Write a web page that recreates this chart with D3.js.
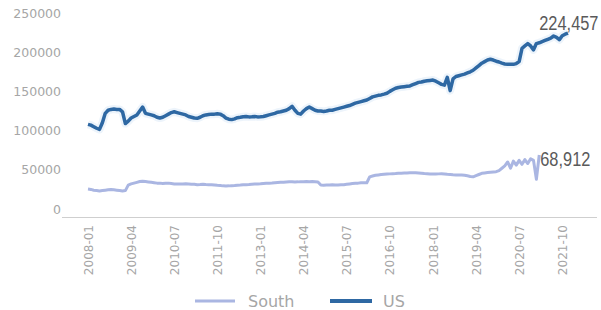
<!DOCTYPE html>
<html>
<head>
<meta charset="utf-8">
<script src="https://cdn.jsdelivr.net/npm/d3@7"></script>
<style>
  html, body { margin: 0; padding: 0; background: #fff; }
  svg { display: block; }
</style>
</head>
<body>
<div id="chart_container"></div>
<script>
// chart dimensions
const WIDTH = 601;
const HEIGHT = 310;
const PLOT = Object.freeze({ left: 88, right: 568, top: 13, bottom: 209 });
const AXIS_Y = 217;

// data
const START_MONTH = "2008-01";
const TICK_LABELS = ["2008-01", "2009-04", "2010-07", "2011-10", "2013-01", "2014-04",
  "2015-07", "2016-10", "2018-01", "2019-04", "2020-07", "2021-10"];
const Y_TICKS = [0, 50000, 100000, 150000, 200000, 250000];
const SERIES_NAMES = ["South", "US"];

// monthly values, 2008-01 .. 2021-12
const US_VALUES = [
  108000, 107000, 105000, 103000, 101500, 110000, 122000, 126000, 127000, 127500,
  127000, 127000, 124000, 109000, 112000, 116000, 118000, 120000, 125000, 130000,
  122000, 121000, 120000, 119000, 117000, 116000, 117000, 119000, 121000, 123000,
  124000, 123000, 122000, 121000, 120000, 118000, 117000, 116000, 115700, 117000,
  119000, 120000, 120500, 121000, 121000, 121500, 121000, 119000, 116000, 114500,
  114000, 115000, 116500, 117000, 117700, 118000, 117500, 117700, 118000, 117500,
  117700, 118000, 119000, 120000, 121000, 122000, 123500, 124000, 125000, 126000,
  128000, 131000, 126000, 122000, 121000, 125000, 128000, 130000, 128000, 126000,
  125000, 125000, 124500, 125000, 126000, 126000, 127000, 128000, 129000, 130000,
  131000, 132000, 133500, 135000, 136000, 137000, 138000, 139000, 141000, 143000,
  144000, 145000, 145500, 146500, 147600, 150000, 152000, 154000, 155000, 155500,
  156000, 156500, 157000, 158500, 160000, 161500, 162000, 163000, 163500, 164000,
  164500, 163000, 161000, 159000, 158000, 168000, 151000, 166000, 169000, 170000,
  171000, 172000, 173500, 175000, 177000, 180000, 183000, 186000, 188000, 190000,
  191000, 190000, 188500, 187500, 186000, 185000, 184500, 184500, 184500, 185500,
  188000, 205000, 208000, 211000, 208000, 203000, 211000, 212000, 213500, 215000,
  216500, 218000, 220700, 219000, 216000, 221000, 223000, 224457
];

// monthly values, 2008-01 .. 2021-02
const SOUTH_VALUES = [
  25500, 25000, 24000, 23500, 23000, 23500, 24000, 24500, 25000, 24500,
  24000, 23500, 23000, 23500, 30500, 32000, 33000, 34000, 35000, 35500,
  35000, 34500, 34000, 33500, 33000, 33000, 32500, 32800, 33000, 32500,
  32000, 32000, 31800, 32000, 32300, 32000, 31500, 31500, 31000, 31200,
  31500, 31200, 31000, 30800, 30500, 30200, 30000, 29500, 29300, 29500,
  29800, 30000, 30300, 30500, 30800, 31000, 31200, 31500, 31800, 32000,
  32200, 32500, 32800, 33000, 33200, 33500, 33800, 34000, 34200, 34500,
  34800, 34800, 34500, 34600, 34800, 34900, 35000, 34800, 35000, 34800,
  34500, 30600, 30400, 30500, 30600, 30800, 30600, 30500, 30800, 31000,
  31500, 32000, 32500, 32800, 33000, 33500, 33500, 33500, 41000, 42000,
  43000, 43500, 44000, 44300, 44600, 44800, 45000, 45200, 45500, 45700,
  45900, 46000, 46200, 46300, 46300, 46000, 45700, 45300, 45000, 44600,
  44500, 44600, 44800, 45000, 44700, 44300, 44000, 43700, 43500, 43400,
  43400, 43000, 42300, 41500, 41000, 42500, 44000, 45500, 46000, 46500,
  47000, 47300, 47600, 49000, 52000, 55000, 60000, 52000, 61000, 56000,
  62000, 57000, 63000, 58000, 64000, 62000, 38000, 68912
];

const COLORS = Object.freeze({ South: "#aab6e2", US: "#2e68a3" });

// month categories
const parseMonth = d3.timeParse("%Y-%m");
const fmtMonth = d3.timeFormat("%Y-%m");
const start = parseMonth(START_MONTH);
const months = d3.timeMonth
  .range(start, d3.timeMonth.offset(start, US_VALUES.length))
  .map(fmtMonth);

const seriesData = {
  South: SOUTH_VALUES.map((v, i) => ({ month: months[i], value: v })),
  US: US_VALUES.map((v, i) => ({ month: months[i], value: v })),
};

// create and append svg into DOM
const svg = d3
  .select("#chart_container")
  .append("svg")
  .attr("width", WIDTH)
  .attr("height", HEIGHT)
  .style("background", "#fff");

// scales
const x = d3.scalePoint().domain(months).range([PLOT.left, PLOT.right]);
const y = d3.scaleLinear().domain([0, 250000]).range([PLOT.bottom, PLOT.top]);

// y axis labels
const yAxis = svg
  .append("g")
  .attr("transform", "translate(61,0)")
  .call(d3.axisLeft(y).tickValues(Y_TICKS).tickSize(0).tickPadding(0).tickFormat(d3.format("d")));
yAxis.select(".domain").remove();
yAxis
  .selectAll("text")
  .attr("fill", "#a6a6a6")
  .style("font-family", "DejaVu Sans, sans-serif")
  .style("font-size", "12.5px");

// x axis base line
svg
  .append("line")
  .attr("x1", 62)
  .attr("x2", 597)
  .attr("y1", AXIS_Y + 0.5)
  .attr("y2", AXIS_Y + 0.5)
  .attr("stroke", "#cfcfcf")
  .attr("stroke-width", 1);

// x axis labels
const xAxis = svg
  .append("g")
  .attr("transform", `translate(0,${AXIS_Y})`)
  .call(d3.axisBottom(x).tickValues(TICK_LABELS).tickSize(0));
xAxis.select(".domain").remove();
xAxis
  .selectAll("text")
  .attr("transform", "rotate(-90)")
  .attr("x", -8)
  .attr("y", 0)
  .attr("dy", "0.35em")
  .attr("text-anchor", "end")
  .attr("fill", "#a6a6a6")
  .style("font-family", "DejaVu Sans, sans-serif")
  .style("font-size", "12px");

// lines
const line = d3
  .line()
  .x((d) => x(d.month))
  .y((d) => y(d.value));

// soft halo under the US line
svg
  .append("path")
  .datum(seriesData.US)
  .attr("d", line)
  .attr("fill", "none")
  .attr("stroke", "#edf4fb")
  .attr("stroke-width", 8)
  .attr("stroke-linejoin", "round");

svg
  .append("path")
  .datum(seriesData.South)
  .attr("d", line)
  .attr("fill", "none")
  .attr("stroke", COLORS.South)
  .attr("stroke-width", 3)
  .attr("stroke-linejoin", "round");

svg
  .append("path")
  .datum(seriesData.US)
  .attr("d", line)
  .attr("fill", "none")
  .attr("stroke", COLORS.US)
  .attr("stroke-width", 3.5)
  .attr("stroke-linejoin", "round");

// end value labels, drawn a little condensed
const lastSouth = seriesData.South[seriesData.South.length - 1];
const lastUS = seriesData.US[seriesData.US.length - 1];
const fmtValue = d3.format(",");

const endLabel = (px, py, txt) =>
  svg
    .append("text")
    .attr("transform", `translate(${px},${py}) scale(0.78,1)`)
    .attr("fill", "#5a5a5a")
    .style("font-family", "Liberation Sans, Arial, sans-serif")
    .style("font-size", "21px")
    .text(txt);

endLabel(x(lastSouth.month) + 1, y(lastSouth.value) + 11, fmtValue(lastSouth.value));
endLabel(x(lastSouth.month), y(lastUS.value) - 3, fmtValue(lastUS.value));

// legend
const legendPos = { South: [195, 235, 248, 3], US: [330, 372, 383, 4] };
const legend = svg
  .append("g")
  .attr("transform", "translate(0,301)")
  .selectAll("g")
  .data(SERIES_NAMES)
  .enter()
  .append("g");

legend
  .append("line")
  .attr("x1", (d) => legendPos[d][0])
  .attr("x2", (d) => legendPos[d][1])
  .attr("stroke", (d) => COLORS[d])
  .attr("stroke-width", (d) => legendPos[d][3]);

legend
  .append("text")
  .attr("x", (d) => legendPos[d][2])
  .attr("dy", "0.36em")
  .attr("fill", "#a6a6a6")
  .style("font-family", "DejaVu Sans, sans-serif")
  .style("font-size", "16px")
  .text((d) => d);
</script>
</body>
</html>
